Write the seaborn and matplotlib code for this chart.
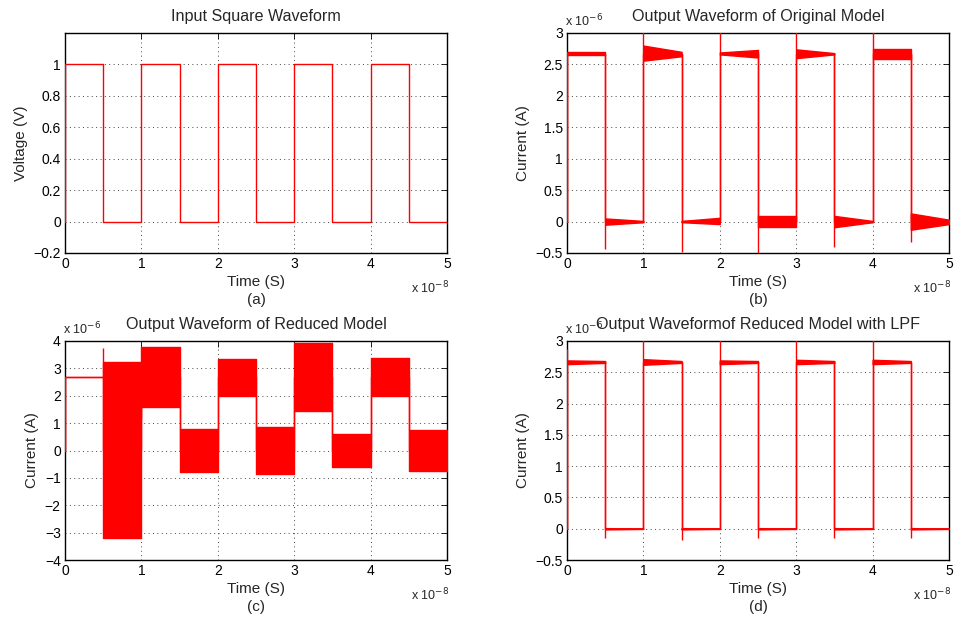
import numpy as np
import pandas as pd
import matplotlib
matplotlib.use("Agg")
import matplotlib.pyplot as plt
import seaborn as sns

# ---------------- data (time in units of 1e-8 s, currents in units of 1e-6 A) -------------
seg_start = [0.0, 0.5, 1.0, 1.5, 2.0, 2.5, 3.0, 3.5, 4.0, 4.5]
seg_end = [0.5, 1.0, 1.5, 2.0, 2.5, 3.0, 3.5, 4.0, 4.5, 5.0]
trans_t = [0.0, 0.5, 1.0, 1.5, 2.0, 2.5, 3.0, 3.5, 4.0, 4.5]

# (a) input square wave
a_level = [1, 0, 1, 0, 1, 0, 1, 0, 1, 0]

# (b) original model: oscillation envelope per half period (start / end of segment)
b_up_start = [2.69, 0.05, 2.80, 0.01, 2.69, 0.09, 2.74, 0.09, 2.75, 0.13]
b_up_end = [2.69, 0.01, 2.70, 0.06, 2.73, 0.09, 2.68, 0.01, 2.75, 0.03]
b_lo_start = [2.65, -0.05, 2.56, -0.01, 2.66, -0.09, 2.60, -0.09, 2.59, -0.13]
b_lo_end = [2.65, -0.01, 2.63, -0.04, 2.61, -0.09, 2.66, -0.01, 2.59, -0.04]
b_trans_lo = [0.0, -0.44, 0.0, -0.48, 0.0, -0.52, 0.0, -0.40, 0.0, -0.32]
b_trans_hi = [2.67, 2.67, 3.05, 2.67, 3.05, 2.70, 3.05, 2.67, 3.05, 2.67]

# (c) reduced model
c_up = [2.67, 3.22, 3.79, 0.80, 3.34, 0.87, 3.91, 0.59, 3.38, 0.75]
c_lo = [2.67, -3.20, 1.60, -0.80, 2.00, -0.87, 1.45, -0.59, 1.99, -0.75]
c_trans_lo = [0.0, 2.67, 1.20, 0.80, 0.80, 0.87, 0.87, 0.59, 0.59, 0.75]
c_trans_hi = [2.67, 3.73, 3.22, 1.60, 2.00, 2.00, 1.45, 1.45, 1.99, 1.99]

# (d) reduced model with LPF
d_up_start = [2.69, 0.01, 2.71, 0.01, 2.69, 0.01, 2.70, 0.01, 2.70, 0.01]
d_up_end = [2.68, 0.00, 2.68, 0.00, 2.68, 0.00, 2.68, 0.00, 2.68, 0.00]
d_lo_start = [2.63, -0.01, 2.62, -0.01, 2.63, -0.01, 2.63, -0.01, 2.63, -0.01]
d_lo_end = [2.65, 0.00, 2.65, 0.00, 2.65, 0.00, 2.65, 0.00, 2.65, 0.00]
d_trans_lo = [0.0, -0.15, 0.0, -0.18, 0.0, -0.15, 0.0, -0.15, 0.0, -0.15]
d_trans_hi = [2.87, 2.66, 3.05, 2.66, 3.05, 2.66, 3.05, 2.66, 3.05, 2.66]

titles = ["Input Square Waveform", "Output Waveform of Original Model",
          "Output Waveform of Reduced Model", "Output Waveformof Reduced Model with LPF"]
ylabels = ["Voltage (V)", "Current (A)", "Current (A)", "Current (A)"]
captions = ["(a)", "(b)", "(c)", "(d)"]
x_ticks = [0, 1, 2, 3, 4, 5]
a_yticks = [-0.2, 0, 0.2, 0.4, 0.6, 0.8, 1]
bd_yticks = [-0.5, 0, 0.5, 1, 1.5, 2, 2.5, 3]
c_yticks = [-4, -3, -2, -1, 0, 1, 2, 3, 4]

# ---------------- style -------------
sns.set_theme(style="white")
plt.rcParams["font.family"] = ["Liberation Sans", "DejaVu Sans"]
plt.rcParams.update({
    "xtick.direction": "in", "ytick.direction": "in",
    "xtick.top": True, "ytick.right": True,
    "xtick.major.size": 4, "ytick.major.size": 4,
    "xtick.major.width": 0.6, "ytick.major.width": 0.6,
    "xtick.color": "black", "ytick.color": "black",
    "xtick.labelsize": 10, "ytick.labelsize": 10,
    "axes.edgecolor": "black", "axes.linewidth": 1.0,
    "axes.unicode_minus": True,
})

W, H = 956, 621
fig = plt.figure(figsize=(W / 100, H / 100), dpi=100)
fig.patch.set_facecolor("white")

RED = "#ff0000"
LW = 1.0
ZR = 6


def px_axes(left, top, right, bottom):
    return fig.add_axes([left / W, 1 - bottom / H, (right - left) / W, (bottom - top) / H])


def ftext(x, y, s, **kw):
    fig.text(x / W, 1 - y / H, s, **kw)


boxes = [(65, 33, 447, 253), (567, 33, 949, 253), (65, 341, 447, 560), (567, 341, 949, 560)]
axes = [px_axes(*b) for b in boxes]


def step_points(levels, start_level):
    xs, ys = [0.0], [start_level]
    for t0, t1, lv in zip(seg_start, seg_end, levels):
        xs += [t0, t1]
        ys += [lv, lv]
    return xs, ys


def draw_bands(ax, up_s, up_e, lo_s, lo_e):
    for t0, t1, us, ue, ls, le in zip(seg_start, seg_end, up_s, up_e, lo_s, lo_e):
        ax.fill_between([t0, t1], [ls, le], [us, ue], color=RED, lw=LW,
                        edgecolor=RED, zorder=ZR)


def draw_trans(ax, lo, hi):
    ax.vlines(trans_t, lo, hi, color=RED, lw=LW, zorder=ZR)


# (a)
ax = axes[0]
xs, ys = step_points(a_level, 0)
sns.lineplot(x=xs, y=ys, ax=ax, sort=False, estimator=None, color=RED, lw=LW, zorder=ZR)
ax.set_ylim(-0.2, 1.2)
ax.set_yticks(a_yticks)
ax.set_yticklabels(["\u22120.2", "0", "0.2", "0.4", "0.6", "0.8", "1"])

# (b)
ax = axes[1]
mid_b = [(u + l) / 2 for u, l in zip(b_up_end, b_lo_end)]
xs, ys = step_points(mid_b, 0)
sns.lineplot(x=xs, y=ys, ax=ax, sort=False, estimator=None, color=RED, lw=LW, zorder=ZR)
draw_bands(ax, b_up_start, b_up_end, b_lo_start, b_lo_end)
draw_trans(ax, b_trans_lo, b_trans_hi)
ax.set_ylim(-0.5, 3)
ax.set_yticks(bd_yticks)
ax.set_yticklabels(["\u22120.5", "0", "0.5", "1", "1.5", "2", "2.5", "3"])

# (c)
ax = axes[2]
mid_c = [(u + l) / 2 for u, l in zip(c_up, c_lo)]
xs, ys = step_points(mid_c, 0)
sns.lineplot(x=xs, y=ys, ax=ax, sort=False, estimator=None, color=RED, lw=LW, zorder=ZR)
draw_bands(ax, c_up, c_up, c_lo, c_lo)
draw_trans(ax, c_trans_lo, c_trans_hi)
ax.set_ylim(-4, 4)
ax.set_yticks(c_yticks)
ax.set_yticklabels(["\u22124", "\u22123", "\u22122", "\u22121", "0", "1", "2", "3", "4"])

# (d)
ax = axes[3]
mid_d = [(u + l) / 2 for u, l in zip(d_up_end, d_lo_end)]
xs, ys = step_points(mid_d, 0)
sns.lineplot(x=xs, y=ys, ax=ax, sort=False, estimator=None, color=RED, lw=LW, zorder=ZR)
draw_bands(ax, d_up_start, d_up_end, d_lo_start, d_lo_end)
draw_trans(ax, d_trans_lo, d_trans_hi)
ax.set_ylim(-0.5, 3)
ax.set_yticks(bd_yticks)
ax.set_yticklabels(["\u22120.5", "0", "0.5", "1", "1.5", "2", "2.5", "3"])

for i, ax in enumerate(axes):
    ax.set_xlim(0, 5)
    ax.set_xticks(x_ticks)
    ax.set_xticklabels([str(t) for t in x_ticks])
    ax.grid(True, color="#444444", linestyle=(0, (1, 3.5)), linewidth=0.7)
    ax.set_axisbelow(True)
    for s in ax.spines.values():
        s.set_visible(True)
        s.set_color("black")
        s.set_zorder(5)
    ax.set_xlabel("")
    ax.set_ylabel(ylabels[i], fontsize=11, labelpad=4)
    ax.tick_params(pad=3)
    for lab in ax.get_xticklabels() + ax.get_yticklabels():
        lab.set_fontsize(10)

# texts
for i, (l, t, r, b) in enumerate(boxes):
    cx = (l + r) / 2
    ftext(cx, t - 16, titles[i], ha="center", va="center", fontsize=11.6)
    ftext(cx, b + 29, "Time (S)", ha="center", va="center", fontsize=11)
    ftext(cx, b + 47, captions[i], ha="center", va="center", fontsize=11)
    ftext(r - 36, b + 35, "x 10$^{-8}$", ha="left", va="center", fontsize=9)
    if i > 0:
        ftext(l - 2, t - 12, "x 10$^{-6}$", ha="left", va="center", fontsize=9)

fig.savefig("out.png", dpi=100, facecolor="white")
